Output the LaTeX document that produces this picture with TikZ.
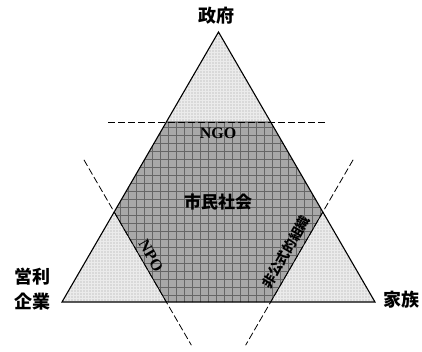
\documentclass[tikz,border=0pt]{standalone}
\usepackage{fontspec}
\setmainfont{Liberation Serif}
\newfontfamily\jp{Noto Sans CJK JP}
\usetikzlibrary{patterns.meta,calc}
\tikzset{
  cornerfill/.style={fill=gray!16},
  cornerdots/.style={pattern={Dots[distance=3pt,radius=0.55pt]},pattern color=gray!75},
  hexfill/.style={fill=gray!68},
  hexgridh/.style={pattern={Lines[distance=8pt,angle=0,line width=0.6pt]},pattern color=black!60},
  hexgridv/.style={pattern={Lines[distance=8pt,angle=90,line width=0.6pt]},pattern color=black!60},
  cutline/.style={line width=0.8pt,dash pattern=on 7pt off 3pt},
  edge/.style={line width=1.1pt,line join=miter},
  jplabel/.style={font=\jp\bfseries\fontsize{18}{22}\selectfont,inner sep=0pt,align=center},
  latlabel/.style={font=\bfseries\fontsize{16}{18}\selectfont,inner sep=0pt},
}
\begin{document}
\begin{tikzpicture}[x=1pt,y=-1pt]
\useasboundingbox (0,0) rectangle (422,351);
\coordinate (A) at (218.5,32);
\coordinate (B) at (62,302);
\coordinate (C) at (375,302);
\coordinate (h1) at ($(A)!1/3!(B)$);
\coordinate (h2) at ($(A)!2/3!(B)$);
\coordinate (h3) at ($(B)!1/3!(C)$);
\coordinate (h4) at ($(B)!2/3!(C)$);
\coordinate (h5) at ($(C)!1/3!(A)$);
\coordinate (h6) at ($(C)!2/3!(A)$);
% triangle corners
\fill[cornerfill] (A)--(B)--(C)--cycle;
\fill[cornerdots] (A)--(B)--(C)--cycle;
% hexagon
\fill[hexfill] (h1)--(h2)--(h3)--(h4)--(h5)--(h6)--cycle;
\fill[hexgridh] (h1)--(h2)--(h3)--(h4)--(h5)--(h6)--cycle;
\fill[hexgridv] (h1)--(h2)--(h3)--(h4)--(h5)--(h6)--cycle;
\draw[line width=0.8pt] (h1)--(h6) (h2)--(h3) (h4)--(h5);
% dashed cut lines
\coordinate (t1) at (108,122);
\coordinate (t2) at (325,122);
\coordinate (l1) at ($(h2)!-0.58!(h3)$);
\coordinate (l2) at ($(h2)!1.48!(h3)$);
\coordinate (r1) at ($(h5)!-0.58!(h4)$);
\coordinate (r2) at ($(h5)!1.48!(h4)$);
\draw[cutline] (t1)--(t2);
\draw[cutline] (l1)--(l2);
\draw[cutline] (r1)--(r2);
% outline
\draw[edge] (A)--(B)--(C)--cycle;
% labels
\node[jplabel] (gov) at (216,16) {政府};
\node[jplabel] (biz) at (32,289) {営利\\[3pt]企業};
\node[jplabel] (fam) at (401,300) {家族};
\node[jplabel,font=\jp\bfseries\fontsize{17}{20}\selectfont] (cs) at (218,202) {市民社会};
\node[latlabel] (ngo) at (218,133) {NGO};
\node[latlabel,rotate=-60] (npo) at (151,256) {NPO};
\node[jplabel,font=\jp\bfseries\fontsize{13.5}{16}\selectfont,rotate=60] (inf) at (286,252) {非公式的組織};
\end{tikzpicture}
\end{document}
